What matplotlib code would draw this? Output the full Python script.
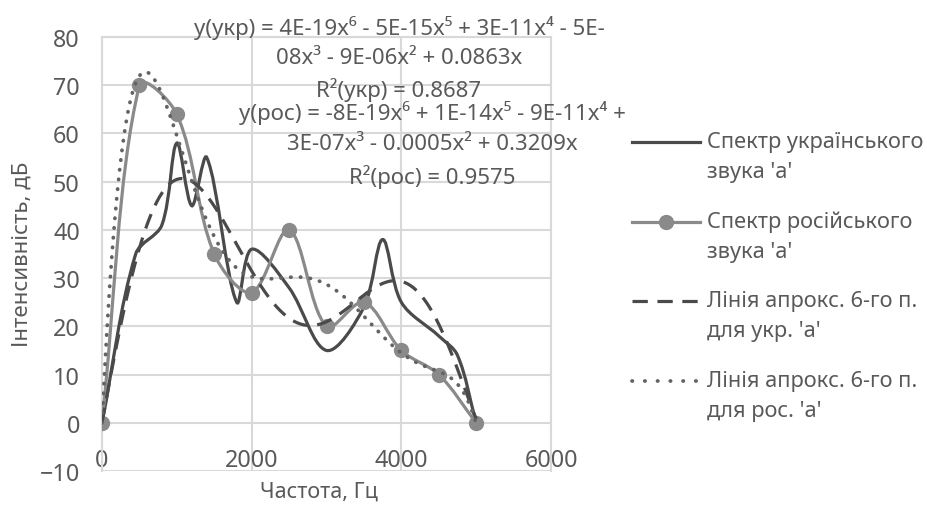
import matplotlib
matplotlib.use("Agg")
import matplotlib.pyplot as plt
from matplotlib.path import Path
from matplotlib.patches import PathPatch
from matplotlib.lines import Line2D
import numpy as np

# Спектр українського звука 'а' (точки)
uk_freq = [0, 450, 800, 1000, 1200, 1400, 1800, 2000, 2500, 3000, 3500, 3750, 4000, 4500, 4750, 5000]
uk_level = [0, 35, 41, 58, 45, 55, 25, 36, 28, 15, 24, 38, 25, 18, 14, 0]

# Спектр російського звука 'а'
ru_freq = [0, 500, 1000, 1500, 2000, 2500, 3000, 3500, 4000, 4500, 5000]
ru_level = [0, 70, 64, 35, 27, 40, 20, 25, 15, 10, 0]

x_ticks = [0, 2000, 4000, 6000]
y_ticks = [-10, 0, 10, 20, 30, 40, 50, 60, 70, 80]

eq_uk = ["y(укр) = 4E-19x⁶ - 5E-15x⁵ + 3E-11x⁴ - 5E-",
         "08x³ - 9E-06x² + 0.0863x",
         "R²(укр) = 0.8687"]
eq_ru = ["y(рос) = -8E-19x⁶ + 1E-14x⁵ - 9E-11x⁴ +",
         "3E-07x³ - 0.0005x² + 0.3209x",
         "R²(рос) = 0.9575"]

legend_labels = ["Спектр українського\nзвука 'а'",
                 "Спектр російського\nзвука 'а'",
                 "Лінія апрокс. 6-го п.\nдля укр. 'а'",
                 "Лінія апрокс. 6-го п.\nдля рос. 'а'"]

C_UK = "#4a4a4a"
C_RU = "#8a8a8a"
C_DOT = "#636363"
C_TXT = "#595959"
C_GRID = "#d9d9d9"

plt.rcParams['font.family'] = ['Noto Sans', 'DejaVu Sans']


def smooth_path(ax, xs, ys):
    """Згладжена лінія як в Excel (кубічні Безьє, вага за довжиною відрізків у пікселях)"""
    p = np.column_stack([xs, ys]).astype(float)
    pix = ax.transData.transform(p)
    n = len(p)
    d = np.hypot(*np.diff(pix, axis=0).T)  # довжини відрізків
    verts = [p[0]]
    codes = [Path.MOVETO]
    for i in range(n - 1):
        if i > 0:
            w = d[i] / (d[i - 1] + d[i]) / 3
            c1 = p[i] + (p[i + 1] - p[i - 1]) * w
        else:
            c1 = p[i] + (p[i + 1] - p[i]) / 3
        if i + 2 < n:
            w = d[i] / (d[i] + d[i + 1]) / 3
            c2 = p[i + 1] - (p[i + 2] - p[i]) * w
        else:
            c2 = p[i + 1] - (p[i + 1] - p[i]) / 3
        verts += [c1, c2, p[i + 1]]
        codes += [Path.CURVE4] * 3
    return Path(verts, codes)


def poly_trend(xs, ys, deg=6):
    """Поліноміальний тренд з нульовим перетином"""
    xk = np.asarray(xs, float) / 1000
    A = np.column_stack([xk ** k for k in range(1, deg + 1)])
    coef, *_ = np.linalg.lstsq(A, np.asarray(ys, float), rcond=None)
    xx = np.linspace(0, max(xs), 300)
    B = np.column_stack([(xx / 1000) ** k for k in range(1, deg + 1)])
    return xx, B @ coef


fig = plt.figure(figsize=(9.27, 5.06), dpi=100)
W, H = 927, 506
ax = fig.add_axes([102 / W, 1 - 472 / H, (551 - 102) / W, (472 - 38) / H])

ax.set_xlim(0, 6000)
ax.set_ylim(-10, 80)
ax.set_xticks(x_ticks)
ax.set_yticks(y_ticks)
ax.grid(True, color=C_GRID, linewidth=1.5)
ax.set_axisbelow(True)
for s in ax.spines.values():
    s.set_color(C_GRID)
    s.set_linewidth(1.5)
ax.spines['bottom'].set_position(('data', 0))
ax.spines['bottom'].set_visible(False)
ax.tick_params(length=0, labelsize=16.8, colors=C_TXT)
ax.tick_params(axis='x', pad=18)
ax.tick_params(axis='y', pad=16)

LW = 2.3
UK_DASH = (4.8, 3.0)
DOT_LW = 2.7
RU_DOT = (0.1, 2.5)

# Серії
ax.add_patch(PathPatch(smooth_path(ax, uk_freq, uk_level), fill=False,
                       edgecolor=C_UK, linewidth=LW, zorder=3))
ax.add_patch(PathPatch(smooth_path(ax, ru_freq, ru_level), fill=False,
                       edgecolor=C_RU, linewidth=LW, zorder=3))
ax.plot(ru_freq, ru_level, 'o', color=C_RU, markersize=10, zorder=4)

# Лінії тренду
tx, ty = poly_trend(uk_freq, uk_level)
ax.plot(tx, ty, color=C_UK, linewidth=LW, dashes=UK_DASH, zorder=5)
tx, ty = poly_trend(ru_freq, ru_level)
ax.plot(tx, ty, color=C_DOT, linewidth=DOT_LW, dashes=RU_DOT,
        dash_capstyle='round', zorder=5)

# Рівняння трендів
for i, line in enumerate(eq_uk):
    fig.text(399 / W, 1 - (28 + 31 * i) / H, line, ha='center', va='center',
             fontsize=16, color=C_TXT)
for i, line in enumerate(eq_ru):
    fig.text(432 / W, 1 - (113 + 32 * i) / H, line, ha='center', va='center',
             fontsize=16, color=C_TXT)

fig.text(319 / W, 1 - 492 / H, "Частота, Гц", ha='center', va='center',
         fontsize=15.5, color=C_TXT)
fig.text(22 / W, 1 - 254 / H, "Інтенсивність, дБ", ha='center', va='center',
         rotation=90, fontsize=16, color=C_TXT)

# Легенда
styles = [dict(color=C_UK, linewidth=LW),
          dict(color=C_RU, linewidth=LW),
          dict(color=C_UK, linewidth=LW, dashes=UK_DASH),
          dict(color=C_DOT, linewidth=DOT_LW, dashes=(0.1, 3.3), dash_capstyle='round')]
for i, (lab, st) in enumerate(zip(legend_labels, styles)):
    yl = 1 - (143 + 79.5 * i) / H
    fig.add_artist(Line2D([632 / W, 700 / W], [yl, yl], transform=fig.transFigure, **st))
    if i == 1:
        fig.add_artist(Line2D([666 / W], [yl], marker='o', markersize=10,
                              color=C_RU, transform=fig.transFigure))
    first, second = lab.split("\n")
    fig.text(707 / W, yl, first, ha='left', va='center', fontsize=15.7, color=C_TXT)
    fig.text(707 / W, yl - 30 / H, second, ha='left', va='center', fontsize=15.7, color=C_TXT)

plt.savefig("out.png", dpi=100)
